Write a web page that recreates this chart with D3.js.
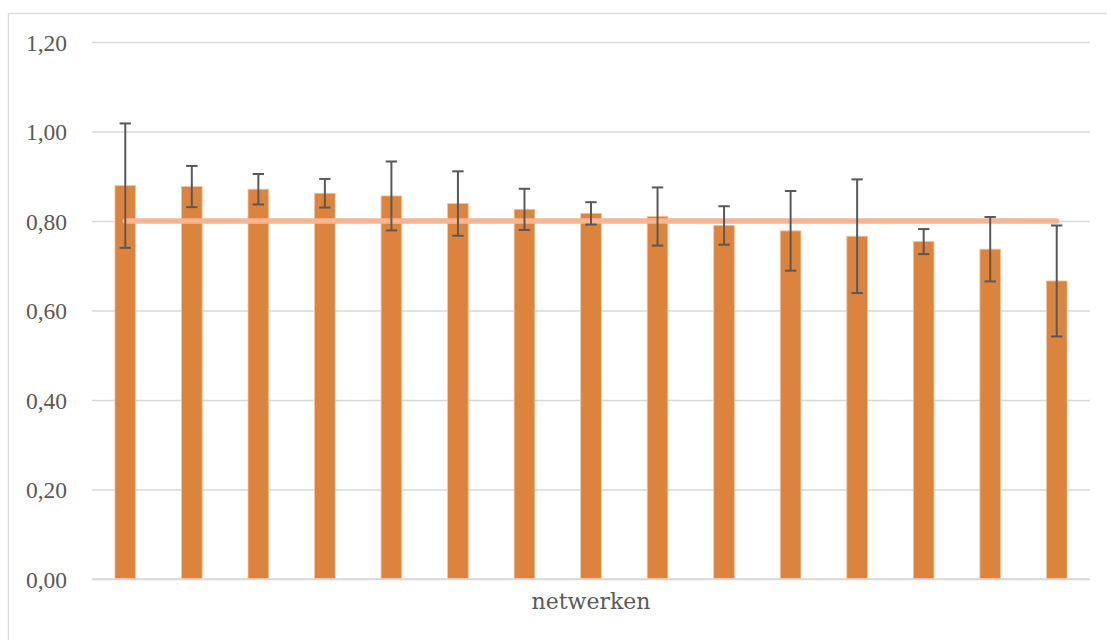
<!DOCTYPE html>
<html>
<head>
<meta charset="utf-8">
<script src="https://cdn.jsdelivr.net/npm/d3@7"></script>
<style>
  html, body { margin: 0; padding: 0; background: #fff; }
  svg { display: block; }
</style>
</head>
<body>
<svg id="chart" width="1107" height="640"></svg>
<script>
// ---- data ----
const categories = ["n1","n2","n3","n4","n5","n6","n7","n8","n9","n10","n11","n12","n13","n14","n15"];
const values = [0.879, 0.877, 0.871, 0.862, 0.856, 0.839, 0.826, 0.817, 0.810, 0.790, 0.778, 0.766, 0.754, 0.737, 0.666];
const errorsPlusMinus = [0.139, 0.046, 0.034, 0.032, 0.077, 0.072, 0.046, 0.025, 0.065, 0.043, 0.089, 0.127, 0.028, 0.072, 0.124];
const referenceValue = [0.80];
const yTicks = [0, 0.2, 0.4, 0.6, 0.8, 1.0, 1.2];
const axisTitle = "netwerken";

// ---- layout ----
const svg = d3.select("#chart");
const plot = { left: 92, right: 1090, top: 42, bottom: 579 };

svg.append("rect")
  .attr("x", 8.5).attr("y", 13.5)
  .attr("width", 1110).attr("height", 650)
  .attr("fill", "#fff").attr("stroke", "#d9d9d9").attr("stroke-width", 1.3);

const x = d3.scaleBand().domain(categories).range([plot.left, plot.right]).paddingInner(0.69).paddingOuter(0.345);
const y = d3.scaleLinear().domain([0, 1.2]).range([plot.bottom, plot.top]);

const fmt = v => d3.format(".2f")(v).replace(".", ",");

// gridlines
svg.append("g")
  .attr("transform", `translate(${plot.left},0)`)
  .call(d3.axisLeft(y).tickValues(yTicks).tickSize(-(plot.right - plot.left)).tickFormat(""))
  .call(g => g.select(".domain").remove())
  .call(g => g.selectAll("line").attr("stroke", "#d9d9d9").attr("stroke-width", 1.4));

// y tick labels
svg.append("g")
  .attr("transform", `translate(${plot.left},0)`)
  .call(d3.axisLeft(y).tickValues(yTicks).tickSize(0).tickPadding(25).tickFormat(fmt))
  .call(g => g.select(".domain").remove())
  .call(g => g.selectAll("text")
    .attr("fill", "#595959")
    .attr("dy", "0.36em")
    .attr("font-family", "'Liberation Serif', 'DejaVu Serif', serif")
    .attr("font-size", 23.5));

// bars
svg.append("g").selectAll("rect")
  .data(categories)
  .join("rect")
  .attr("x", d => x(d))
  .attr("y", (d, i) => y(values[i]))
  .attr("width", x.bandwidth())
  .attr("height", (d, i) => y(0) - y(values[i]))
  .attr("fill", "#dc843e")
  .attr("stroke", "#f3c49c")
  .attr("stroke-width", 0.8);

// category axis line
svg.append("line")
  .attr("x1", plot.left).attr("x2", plot.right)
  .attr("y1", y(0)).attr("y2", y(0))
  .attr("stroke", "#d9d9d9").attr("stroke-width", 1.4);

// reference line
const cx = d => x(d) + x.bandwidth() / 2;
svg.append("line")
  .attr("x1", cx(categories[0]))
  .attr("x2", cx(categories[categories.length - 1]))
  .attr("y1", y(referenceValue[0]))
  .attr("y2", y(referenceValue[0]))
  .attr("stroke", "#f8b591")
  .attr("stroke-width", 5.3)
  .attr("stroke-linecap", "round");

// error bars
const eb = svg.append("g").attr("stroke", "#595959").attr("stroke-width", 2);
categories.forEach((c, i) => {
  const xc = cx(c);
  const hi = y(values[i] + errorsPlusMinus[i]);
  const lo = y(values[i] - errorsPlusMinus[i]);
  eb.append("line").attr("x1", xc).attr("x2", xc).attr("y1", hi).attr("y2", lo);
  eb.append("line").attr("x1", xc - 5.7).attr("x2", xc + 5.7).attr("y1", hi).attr("y2", hi);
  eb.append("line").attr("x1", xc - 5.7).attr("x2", xc + 5.7).attr("y1", lo).attr("y2", lo);
});

// axis title
svg.append("text")
  .attr("x", (plot.left + plot.right) / 2)
  .attr("y", 609)
  .attr("text-anchor", "middle")
  .attr("fill", "#595959")
  .attr("font-family", "'DejaVu Serif', 'Liberation Serif', serif")
  .attr("font-size", 22)
  .text(axisTitle);
</script>
</body>
</html>
